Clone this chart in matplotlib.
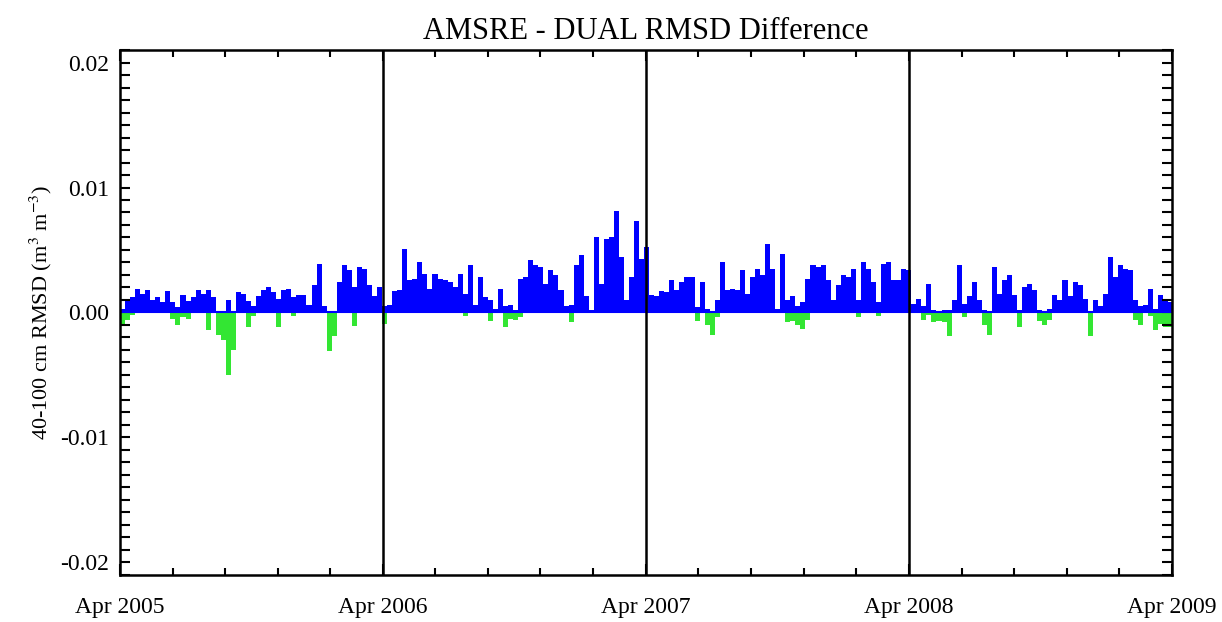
import datetime as dt
import numpy as np
import matplotlib
matplotlib.use("Agg")
import matplotlib.pyplot as plt
from matplotlib.ticker import MultipleLocator

# weekly RMSD difference (units of 1e-3 m3/m3), Apr 2005 - Apr 2009
pos = [0.3, 1.0, 1.2, 1.9, 1.5, 1.8, 1.0, 1.2, 0.8, 1.7,
       0.8, 0.4, 1.4, 0.9, 1.2, 1.8, 1.5, 1.8, 1.2, 0.1,
       0.0, 1.0, 0.1, 1.6, 1.5, 0.9, 0.5, 1.3, 1.8, 2.0,
       1.6, 1.1, 1.8, 1.9, 1.2, 1.4, 1.4, 0.6, 2.2, 3.9,
       0.5, 0.0, 0.0, 2.4, 3.8, 3.4, 2.0, 3.6, 3.5, 2.2,
       1.3, 2.0, 0.5, 0.6, 1.7, 1.8, 5.1, 2.6, 2.7, 4.0,
       3.1, 1.9, 3.1, 2.7, 2.6, 2.4, 2.0, 3.1, 1.5, 3.8,
       0.6, 2.8, 1.2, 1.0, 0.3, 1.9, 0.5, 0.6, 0.2, 2.7,
       2.8, 4.2, 3.8, 3.6, 2.3, 3.4, 3.0, 1.8, 0.5, 0.6,
       3.8, 4.6, 1.3, 0.2, 6.0, 2.3, 5.9, 6.0, 8.1, 4.4,
       1.0, 2.8, 7.3, 4.3, 5.2, 1.4, 1.3, 1.7, 1.6, 2.6,
       1.8, 2.4, 2.8, 2.8, 0.4, 2.4, 0.3, 0.0, 1.0, 4.0,
       1.8, 1.9, 1.8, 3.4, 1.5, 2.8, 3.5, 3.0, 5.5, 3.5,
       0.3, 4.7, 1.0, 1.3, 0.5, 0.8, 2.7, 3.8, 3.6, 3.8,
       2.6, 1.0, 2.2, 3.0, 2.8, 3.5, 1.0, 4.0, 3.5, 2.4,
       0.8, 3.9, 4.0, 2.6, 2.6, 3.5, 3.4, 0.7, 1.1, 0.5,
       2.3, 0.2, 0.1, 0.2, 0.2, 1.0, 3.8, 0.7, 1.3, 2.4,
       1.0, 0.2, 0.1, 3.6, 1.5, 2.6, 3.0, 1.4, 0.2, 2.0,
       2.3, 1.8, 0.2, 0.1, 0.3, 1.4, 1.0, 2.6, 1.3, 2.4,
       2.2, 1.1, 0.1, 1.0, 0.5, 1.5, 4.4, 2.8, 3.8, 3.5,
       3.4, 1.0, 0.5, 0.6, 1.9, 0.3, 1.4, 1.0, 0.8]

neg = [-1.0, -0.6, -0.2, 0, 0, 0, 0, 0, 0, 0,
       -0.5, -1.0, -0.4, -0.5, 0, 0, 0, -1.4, 0, -1.8,
       -2.2, -5.0, -3.0, 0, 0, -1.2, -0.3, 0, 0, 0,
       0, -1.2, 0, 0, -0.3, 0, 0, 0, 0, 0,
       0, -3.1, -1.9, 0, 0, 0, -1.1, 0, 0, 0,
       0, 0, -0.9, 0, 0, 0, 0, 0, 0, 0,
       0, 0, 0, 0, 0, 0, 0, 0, -0.3, 0,
       0, 0, 0, -0.7, 0, 0, -1.2, -0.5, -0.6, -0.4,
       0, 0, 0, 0, 0, 0, 0, 0, 0, -0.8,
       0, 0, 0, 0, 0, 0, 0, 0, 0, 0,
       0, 0, 0, 0, 0, 0, 0, 0, 0, 0,
       0, 0, 0, 0, -0.7, 0, -1.0, -1.8, -0.4, 0,
       0, 0, 0, 0, 0, 0, 0, 0, 0, 0,
       0, 0, -0.8, -0.7, -1.0, -1.3, -0.6, 0, 0, 0,
       0, 0, 0, 0, 0, 0, -0.4, 0, 0, 0,
       -0.3, 0, 0, 0, 0, 0, 0, 0, 0, -0.6,
       -0.2, -0.8, -0.7, -0.8, -1.9, 0, 0, -0.4, 0, 0,
       0, -1.0, -1.8, 0, 0, 0, 0, 0, -1.2, 0,
       0, 0, -0.7, -1.0, -0.6, 0, 0, 0, 0, 0,
       0, 0, -1.9, 0, 0, 0, 0, 0, 0, 0,
       0, -0.6, -1.0, 0, -0.3, -1.4, -0.9, -1.2, -1.2]

years = [2005, 2006, 2007, 2008, 2009]
tick_labels = ["Apr %d" % y for y in years]

start = dt.datetime(2005, 4, 1)
weeks = [start + dt.timedelta(days=7 * i) for i in range(len(pos))]
pos = np.array(pos) * 1e-3
neg = np.array(neg) * 1e-3

plt.rcParams["font.family"] = ["Liberation Serif", "DejaVu Serif"]
plt.rcParams["mathtext.fontset"] = "stix"

fig = plt.figure(figsize=(12.22, 6.22), dpi=100)
ax = fig.add_axes([0.0982, 0.0756, 0.8608, 0.844])

ax.bar(weeks, pos, width=7, align="edge", color="#0000ff", linewidth=0)
ax.bar(weeks, neg, width=7, align="edge", color="#33e633", linewidth=0)
ax.axhline(0, color="#0000ff", lw=1.5)

year_dates = [dt.datetime(y, 4, 1) for y in years]
for d in year_dates[1:-1]:
    ax.axvline(d, color="black", lw=1.8)

ax.set_xlim(year_dates[0], year_dates[-1])
ax.set_ylim(-0.021, 0.021)

ax.set_xticks(year_dates)
ax.set_xticklabels(tick_labels)
minor_x = []
for d0, d1 in zip(year_dates[:-1], year_dates[1:]):
    for k in range(1, 5):
        minor_x.append(d0 + (d1 - d0) * k / 5)
ax.set_xticks(minor_x, minor=True)

ax.set_yticks([-0.02, -0.01, 0.0, 0.01, 0.02])
ax.set_yticklabels(["-0.02", "-0.01", "0.00", "0.01", "0.02"])
ax.yaxis.set_minor_locator(MultipleLocator(0.001))

ax.tick_params(which="both", direction="in", top=True, right=True,
               labelsize=17, width=1.5)
ax.tick_params(axis="x", which="major", length=8, pad=16)
ax.tick_params(axis="x", which="minor", length=5)
ax.tick_params(axis="y", which="both", length=7, pad=8)
for s in ax.spines.values():
    s.set_linewidth(1.8)

ax.set_title("AMSRE - DUAL RMSD Difference", fontsize=22, pad=8)
ax.set_ylabel("40-100 cm RMSD (m$^3$ m$^{-3}$)", fontsize=16, labelpad=4)

fig.savefig("out.png", dpi=100)
